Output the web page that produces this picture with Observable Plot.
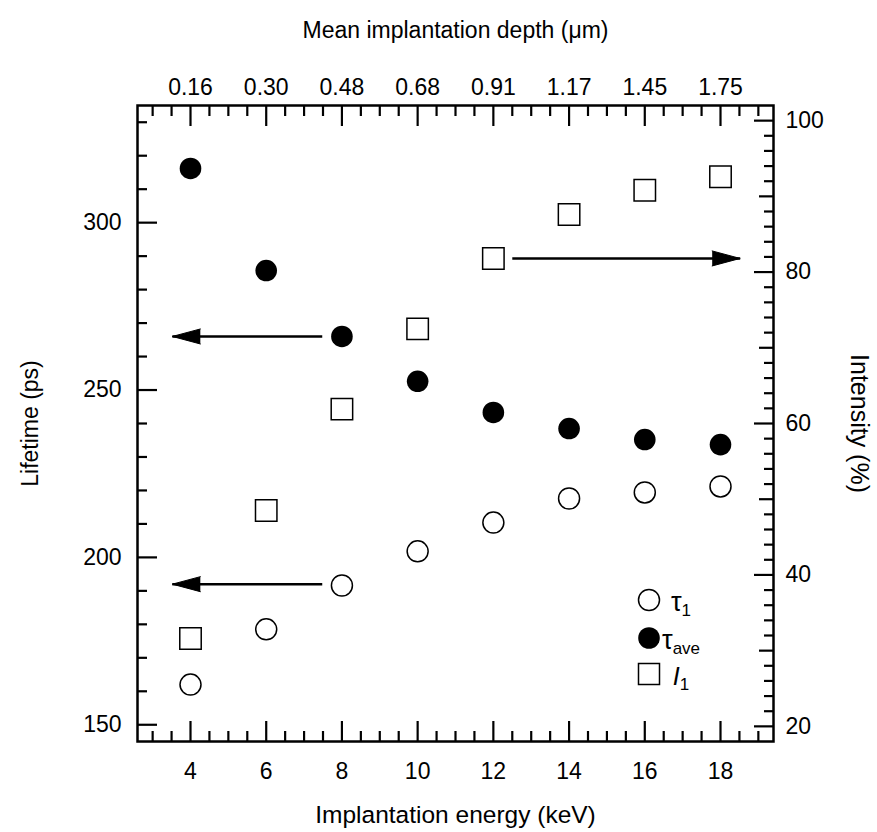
<!DOCTYPE html>
<html><head><meta charset="utf-8">
<script src="https://cdn.jsdelivr.net/npm/d3@7"></script>
<script src="https://cdn.jsdelivr.net/npm/@observablehq/plot@0.6"></script>
<style>body{margin:0;background:#fff}</style>
</head><body><div id="chart"></div>
<script>
// ---- data ----
const energy = [4, 6, 8, 10, 12, 14, 16, 18];                       // keV
const tau1 = [162, 178.5, 191.6, 201.8, 210.4, 217.6, 219.4, 221.2]; // ps
const tauAve = [316.2, 285.7, 266, 252.6, 243.3, 238.5, 235.2, 233.7]; // ps
const intensity1 = [31.6, 48.5, 61.9, 72.5, 81.8, 87.6, 90.8, 92.6]; // %
const depthLabels = ["0.16", "0.30", "0.48", "0.68", "0.91", "1.17", "1.45", "1.75"];
const energyTicks = [4, 6, 8, 10, 12, 14, 16, 18];
const lifetimeTicks = [150, 200, 250, 300];
const intensityTicks = [20, 40, 60, 80, 100];
// arrows: start energy, end energy, value, axis
const arrowFrom = [7.48, 7.48, 12.5];
const arrowTo = [3.52, 3.52, 18.52];
const arrowValue = [266, 192, 81.8];
const arrowAxis = ["left", "left", "right"];

// ---- scales ----
const xDomain = [2.6, 19.4];
const yDomain = [145, 335];
const iDomain = [18, 102];
const toLeft = v => yDomain[0] + (v - iDomain[0]) * (yDomain[1] - yDomain[0]) / (iDomain[1] - iDomain[0]);
const fromLeft = v => iDomain[0] + (v - yDomain[0]) * (iDomain[1] - iDomain[0]) / (yDomain[1] - yDomain[0]);

const xMinor = d3.range(3, 19.01, 0.5).filter(v => !energyTicks.includes(v));
const yMinor = d3.range(150, 331, 10).filter(v => !lifetimeTicks.includes(v));
const iMid = [30, 50, 70, 90];
const iMinor = d3.range(22, 99, 2).filter(v => v % 10 !== 0);

const font = "'Liberation Sans', Arial, Helvetica, sans-serif";
const blank = () => "";
const tw = 2.2;
const tickFont = 23;

const pts = (vals) => energy.map((e, i) => ({e, v: vals[i]}));
const arrows = arrowFrom.map((f, i) => ({
  x1: f, x2: arrowTo[i],
  y: arrowAxis[i] === "left" ? arrowValue[i] : toLeft(arrowValue[i]),
  rot: arrowTo[i] < f ? -90 : 90
}));

const chart = Plot.plot({
  width: 877, height: 832,
  marginLeft: 137, marginRight: 104, marginTop: 105, marginBottom: 91,
  style: {fontFamily: font, fontSize: "21px", color: "black", background: "white", overflow: "visible"},
  x: {domain: xDomain, label: null},
  y: {domain: yDomain, label: null},
  marks: [
    // tick marks (inward)
    Plot.axisX({anchor: "bottom", ticks: xMinor, tickSize: -10, strokeWidth: tw, tickFormat: blank, label: null}),
    Plot.axisX({anchor: "bottom", ticks: energyTicks, tickSize: -20, strokeWidth: tw, tickFormat: blank, label: null}),
    Plot.axisX({anchor: "top", ticks: xMinor, tickSize: -10, strokeWidth: tw, tickFormat: blank, label: null}),
    Plot.axisX({anchor: "top", ticks: energyTicks, tickSize: -20, strokeWidth: tw, tickFormat: blank, label: null}),
    Plot.axisY({anchor: "left", ticks: yMinor, tickSize: -10, strokeWidth: tw, tickFormat: blank, label: null}),
    Plot.axisY({anchor: "left", ticks: lifetimeTicks, tickSize: -20, strokeWidth: tw, tickFormat: blank, label: null}),
    Plot.axisY({anchor: "right", ticks: iMinor.map(toLeft), tickSize: -10, strokeWidth: tw, tickFormat: blank, label: null}),
    Plot.axisY({anchor: "right", ticks: iMid.map(toLeft), tickSize: -15, strokeWidth: tw, tickFormat: blank, label: null}),
    Plot.axisY({anchor: "right", ticks: intensityTicks.map(toLeft), tickSize: -20, strokeWidth: tw, tickFormat: blank, label: null}),
    // tick labels
    Plot.axisX({anchor: "bottom", ticks: energyTicks, tickSize: 0, tickPadding: 21, fontSize: tickFont, fill: "black", label: null}),
    Plot.axisX({anchor: "top", ticks: energyTicks, tickSize: 0, tickPadding: 11, fontSize: tickFont, fill: "black", label: null,
      tickFormat: d => depthLabels[energyTicks.indexOf(d)]}),
    Plot.axisY({anchor: "left", ticks: lifetimeTicks, tickSize: 0, tickPadding: 16, fontSize: tickFont, fill: "black", label: null}),
    Plot.axisY({anchor: "right", ticks: intensityTicks.map(toLeft), tickSize: 0, tickPadding: 12, fontSize: tickFont, fill: "black", label: null,
      tickFormat: d => String(Math.round(fromLeft(d)))}),
    // axis titles
    Plot.text(["Implantation energy (keV)"], {frameAnchor: "bottom", dy: 74, lineAnchor: "middle", textAnchor: "middle",
      fontSize: 24.5, fill: "black", text: d => d}),
    Plot.text(["Mean implantation depth (\u03bcm)"], {frameAnchor: "top", dy: -75, lineAnchor: "middle", textAnchor: "middle",
      fontSize: 23, fill: "black", text: d => d}),
    Plot.text(["Lifetime (ps)"], {frameAnchor: "left", dx: -107, rotate: -90, lineAnchor: "middle", textAnchor: "middle",
      fontSize: 23, fill: "black", text: d => d}),
    Plot.text(["Intensity (%)"], {frameAnchor: "right", dx: 85, rotate: 90, lineAnchor: "middle", textAnchor: "middle",
      fontSize: 25, fill: "black", text: d => d}),
    // frame
    Plot.frame({stroke: "black", strokeWidth: 2.5}),
    // arrows
    Plot.link(arrows, {x1: "x1", x2: "x2", y1: "y", y2: "y", stroke: "black", strokeWidth: 2.5}),
    Plot.vector(arrows, {x: "x2", y: "y", rotate: "rot", length: 28, r: 7.5, shape: "spike", anchor: "end",
      fill: "black", stroke: "black", strokeWidth: 1}),
    // data
    Plot.dot(pts(intensity1).map(d => ({e: d.e, v: toLeft(d.v)})), {x: "e", y: "v", symbol: "square", r: 12.1,
      stroke: "black", strokeWidth: 1.5, fill: "white"}),
    Plot.dot(pts(tau1), {x: "e", y: "v", r: 10.5, stroke: "black", strokeWidth: 1.5, fill: "white"}),
    Plot.dot(pts(tauAve), {x: "e", y: "v", r: 10.8, fill: "black", stroke: "none"})
  ]
});
document.getElementById("chart").appendChild(chart);

// ---- legend (inside the frame, lower right) ----
const svg = d3.select(chart);
const lg = svg.append("g").attr("font-family", font).attr("fill", "black");
const legendItems = [
  {sym: "open", main: "\u03c4", sub: "1", italic: false},
  {sym: "filled", main: "\u03c4", sub: "ave", italic: false},
  {sym: "square", main: "I", sub: "1", italic: true}
];
const lx = 649, ly0 = 600, lstep = 38;
legendItems.forEach((it, i) => {
  const cy = ly0 + i * lstep - (i === 2 ? 2 : 0);
  if (it.sym === "square") {
    lg.append("rect").attr("x", lx - 10.5).attr("y", cy - 10.5).attr("width", 21).attr("height", 21)
      .attr("fill", "white").attr("stroke", "black").attr("stroke-width", 1.5);
  } else {
    lg.append("circle").attr("cx", lx).attr("cy", cy).attr("r", it.sym === "open" ? 10.5 : 10.8)
      .attr("fill", it.sym === "open" ? "white" : "black")
      .attr("stroke", it.sym === "open" ? "black" : "none").attr("stroke-width", 1.5);
  }
  const t = lg.append("text").attr("x", lx + 32).attr("y", cy + 11);
  t.append("tspan").attr("font-size", it.italic ? 25 : 27).attr("font-style", it.italic ? "italic" : null).text(it.main);
  t.append("tspan").attr("font-size", 17).attr("dy", 5).text(it.sub);
});
</script>
</body></html>
